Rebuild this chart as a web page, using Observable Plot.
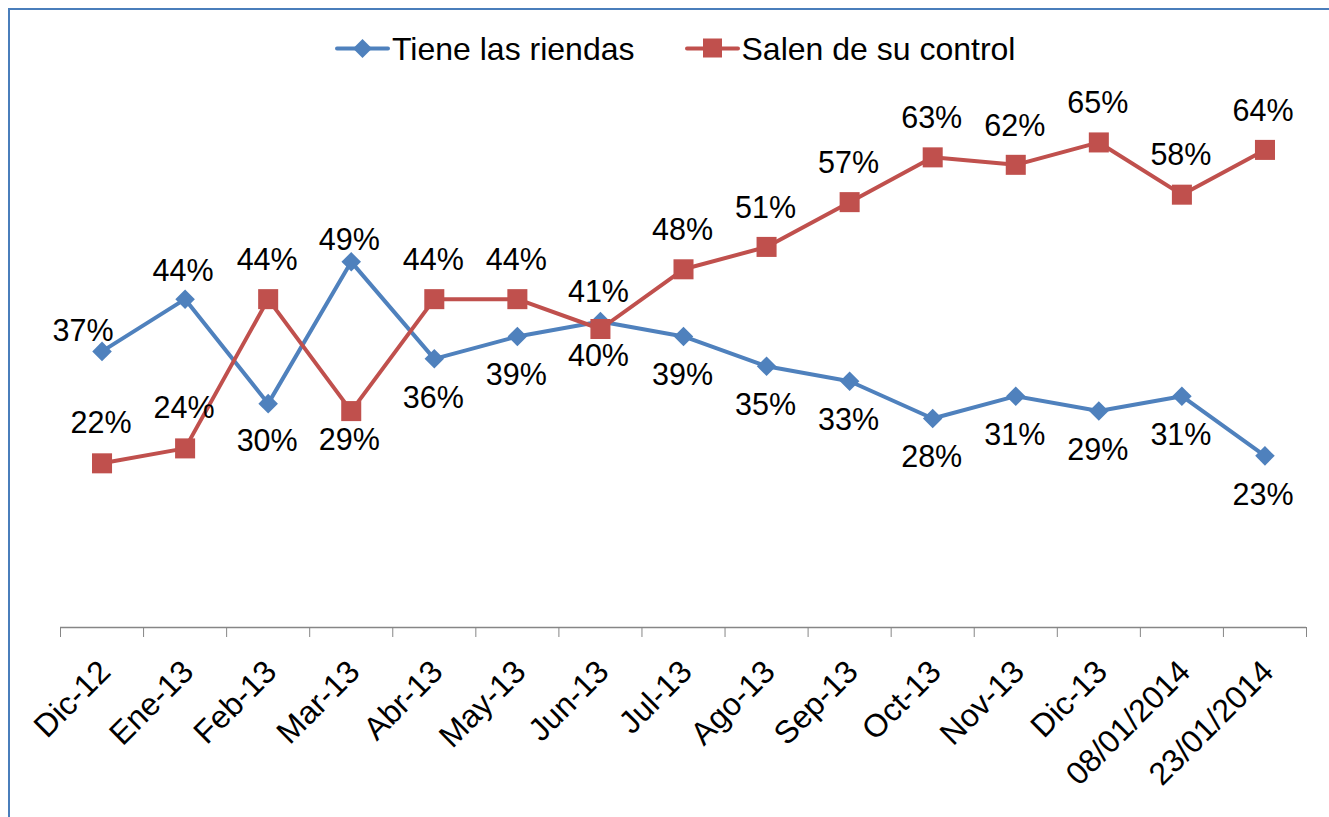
<!DOCTYPE html>
<html><head><meta charset="utf-8">
<script src="https://cdn.jsdelivr.net/npm/d3@7"></script>
<script src="https://cdn.jsdelivr.net/npm/@observablehq/plot@0.6"></script>
<style>
html,body{margin:0;padding:0;background:#fff;overflow:hidden;width:1329px;height:817px;}
#frame{position:absolute;left:8px;top:8px;width:1400px;height:900px;border:2px solid #4a7ebb;box-sizing:border-box;}
#chart{position:absolute;left:0;top:0;}
#legend{position:absolute;top:20px;left:335px;display:flex;align-items:center;font-family:"Liberation Sans",Arial,sans-serif;font-size:32px;color:#000;line-height:38px;}
.item{display:flex;align-items:center;}
.item svg{margin-right:2px;}
</style></head><body>
<div id="frame"></div>
<div id="chart"></div>
<div id="legend"></div>
<script>
const categories = ["Dic-12","Ene-13","Feb-13","Mar-13","Abr-13","May-13","Jun-13","Jul-13","Ago-13","Sep-13","Oct-13","Nov-13","Dic-13","08/01/2014","23/01/2014"];
const tieneLasRiendas = [37,44,30,49,36,39,41,39,35,33,28,31,29,31,23];
const salenDeSuControl = [22,24,44,29,44,44,40,48,51,57,63,62,65,58,64];
const seriesNames = ["Tiene las riendas","Salen de su control"];

const colors = ["#4f81bd","#c0504d"];
const font = "'Liberation Sans', Arial, sans-serif";
const idx = categories.map((_, i) => i);

// label placement offsets (px)
const blueOffsets = [[-19,-20],[-2,-28],[-1,38],[-2,-22],[-1,39],[-1,39],[-2,-29],[-1,39],[-1,39],[-1,39],[-1,39],[-1,39],[-1,39],[-1,39],[-2,39]];
const redOffsets = [[-1,-40],[-1,-40],[-1,-39],[-2,29],[-1,-39],[-1,-39],[-2,27],[-1,-39],[-1,-39],[-1,-39],[-1,-39],[-1,-39],[-1,-39],[-1,-39],[-2,-39]];

const labelMarks = [];
[[tieneLasRiendas, blueOffsets],[salenDeSuControl, redOffsets]].forEach(([vals, offs]) => {
  idx.forEach(i => {
    labelMarks.push(Plot.text([i], {x: d => d, y: d => vals[d], text: d => vals[d] + "%", dx: offs[i][0], dy: offs[i][1], fontSize: 30.5, fill: "#000"}));
  });
});

const chart = Plot.plot({
  width: 1329, height: 817,
  marginLeft: 60, marginRight: 23, marginTop: 30, marginBottom: 190,
  x: {type: "linear", domain: [-0.5, categories.length - 0.5]},
  y: {domain: [0, 80], axis: null},
  style: {fontFamily: font, background: "transparent", overflow: "visible"},
  marks: [
    Plot.ruleY([0], {stroke: "#868686", strokeWidth: 1.3}),
    Plot.axisX(d3.range(-0.5, categories.length, 1), {tickSize: 10, tickFormat: () => "", stroke: "#868686", label: null}),
    Plot.axisX(idx, {tickSize: 0, tickRotate: -45, tickPadding: 39, tickFormat: i => categories[i], fontSize: 32, fill: "#000", label: null, dx: 3}),
    Plot.line(idx, {x: i => i, y: i => tieneLasRiendas[i], stroke: colors[0], strokeWidth: 4}),
    Plot.line(idx, {x: i => i, y: i => salenDeSuControl[i], stroke: colors[1], strokeWidth: 4}),
    Plot.dot(idx, {x: i => i, y: i => tieneLasRiendas[i], symbol: "diamond2", r: 8.8, fill: colors[0]}),
    Plot.dot(idx, {x: i => i, y: i => salenDeSuControl[i], symbol: "square", r: 11.3, fill: colors[1]}),
    ...labelMarks
  ]
});
document.getElementById("chart").appendChild(chart);

const legend = document.getElementById("legend");
seriesNames.forEach((name, k) => {
  const item = document.createElement("div");
  item.className = "item";
  if (k > 0) item.style.marginLeft = "50px";
  const sym = k === 0
    ? `<path d="M27.5,19 L37,28.5 L27.5,38 L18,28.5 Z" fill="${colors[0]}"/>`
    : `<rect x="18" y="18.5" width="19" height="19" fill="${colors[1]}"/>`;
  item.innerHTML = `<svg width="55" height="57" viewBox="0 0 55 57"><line x1="2" y1="28.5" x2="53" y2="28.5" stroke="${colors[k]}" stroke-width="4" stroke-linecap="round"/>${sym}</svg><span>${name}</span>`;
  legend.appendChild(item);
});
</script>
</body></html>
